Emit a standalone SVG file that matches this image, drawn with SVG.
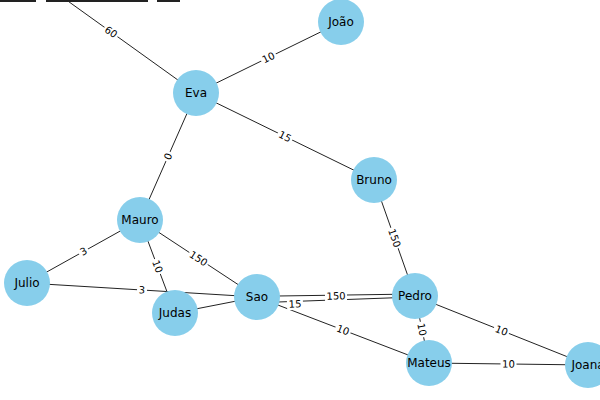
<svg xmlns="http://www.w3.org/2000/svg" width="600" height="400" viewBox="0 0 600 400">
<style>
.e{stroke:#222;stroke-width:1;fill:none}
.n{fill:#87CEEB}
.nl{font-family:"DejaVu Sans",sans-serif;font-size:12px;fill:#000;text-anchor:middle;dominant-baseline:central}
.el{font-family:"DejaVu Sans",sans-serif;font-size:10px;fill:#000;text-anchor:middle;dominant-baseline:central}
.bg{fill:#fff}
</style>
<rect width="600" height="400" fill="#fff"/>
<g id="topbars" fill="#222">
<rect x="0" y="0" width="36" height="2"/>
<rect x="46" y="0" width="102" height="2"/>
<rect x="157" y="0" width="23" height="2"/>
</g>
<g id="connectors">
<line class="e" x1="26" y1="-29" x2="196" y2="93"/>
<line class="e" x1="196" y1="93" x2="341" y2="22"/>
<line class="e" x1="196" y1="93" x2="374" y2="180"/>
<line class="e" x1="196" y1="93" x2="140" y2="220"/>
<line class="e" x1="140" y1="220" x2="27" y2="283"/>
<line class="e" x1="140" y1="220" x2="175" y2="313"/>
<line class="e" x1="140" y1="220" x2="257" y2="297"/>
<line class="e" x1="27" y1="283" x2="257" y2="297"/>
<line class="e" x1="175" y1="313" x2="257" y2="297"/>
<line class="e" x1="278" y1="296" x2="415" y2="294"/>
<line class="e" x1="278" y1="302" x2="415" y2="297"/>
<line class="e" x1="257" y1="297" x2="429" y2="363"/>
<line class="e" x1="374" y1="180" x2="415" y2="296"/>
<line class="e" x1="415" y1="296" x2="429" y2="363"/>
<line class="e" x1="415" y1="296" x2="588" y2="365"/>
<line class="e" x1="429" y1="363" x2="588" y2="365"/>
<g id="edge-labels">
<g transform="translate(111,32) rotate(35.7)"><rect class="bg" x="-8" y="-6" width="16" height="12"/><text class="el">60</text></g>
<g transform="translate(268.5,57.5) rotate(-26.1)"><rect class="bg" x="-8" y="-6" width="16" height="12"/><text class="el">10</text></g>
<g transform="translate(285,136.5) rotate(26)"><rect class="bg" x="-8" y="-6" width="16" height="12"/><text class="el">15</text></g>
<g transform="translate(168,156.5) rotate(-66.2)"><rect class="bg" x="-5" y="-6" width="10" height="12"/><text class="el">0</text></g>
<g transform="translate(83.5,251.5) rotate(-29.1)"><rect class="bg" x="-5" y="-6" width="10" height="12"/><text class="el">3</text></g>
<g transform="translate(157.5,266.5) rotate(69.4)"><rect class="bg" x="-8" y="-6" width="16" height="12"/><text class="el">10</text></g>
<g transform="translate(198.5,258.5) rotate(33.3)"><rect class="bg" x="-11" y="-6" width="22" height="12"/><text class="el">150</text></g>
<g transform="translate(142,290) rotate(3.5)"><rect class="bg" x="-5" y="-6" width="10" height="12"/><text class="el">3</text></g>
<g transform="translate(336,296) rotate(-1)"><rect class="bg" x="-11" y="-6" width="22" height="12"/><text class="el">150</text></g>
<g transform="translate(295,304) rotate(-2)"><rect class="bg" x="-8" y="-6" width="16" height="12"/><text class="el">15</text></g>
<g transform="translate(343,330) rotate(21)"><rect class="bg" x="-8" y="-6" width="16" height="12"/><text class="el">10</text></g>
<g transform="translate(394.5,238) rotate(70.5)"><rect class="bg" x="-11" y="-6" width="22" height="12"/><text class="el">150</text></g>
<g transform="translate(422,329.5) rotate(78.2)"><rect class="bg" x="-8" y="-6" width="16" height="12"/><text class="el">10</text></g>
<g transform="translate(501.5,330.5) rotate(21.7)"><rect class="bg" x="-8" y="-6" width="16" height="12"/><text class="el">10</text></g>
<g transform="translate(508.5,364) rotate(0.7)"><rect class="bg" x="-8" y="-6" width="16" height="12"/><text class="el">10</text></g>
</g>
</g>
<g id="node-Joao"><circle class="n" cx="341" cy="22" r="23"/><text class="nl" x="341" y="22">João</text></g>
<g id="node-Eva"><circle class="n" cx="196" cy="93" r="23"/><text class="nl" x="196" y="93">Eva</text></g>
<g id="node-Bruno"><circle class="n" cx="374" cy="180" r="23"/><text class="nl" x="374" y="180">Bruno</text></g>
<g id="node-Mauro"><circle class="n" cx="140" cy="220" r="23"/><text class="nl" x="140" y="220">Mauro</text></g>
<g id="node-Julio"><circle class="n" cx="27" cy="283" r="23"/><text class="nl" x="27" y="283">Julio</text></g>
<g id="node-Judas"><circle class="n" cx="175" cy="313" r="23"/><text class="nl" x="175" y="313">Judas</text></g>
<g id="node-Sao"><circle class="n" cx="257" cy="297" r="23"/><text class="nl" x="257" y="297">Sao</text></g>
<g id="node-Pedro"><circle class="n" cx="415" cy="296" r="23"/><text class="nl" x="415" y="296">Pedro</text></g>
<g id="node-Mateus"><circle class="n" cx="429" cy="363" r="23"/><text class="nl" x="429" y="363">Mateus</text></g>
<g id="node-Joana"><circle class="n" cx="588" cy="365" r="23"/><text class="nl" x="588" y="365">Joana</text></g>
</svg>
